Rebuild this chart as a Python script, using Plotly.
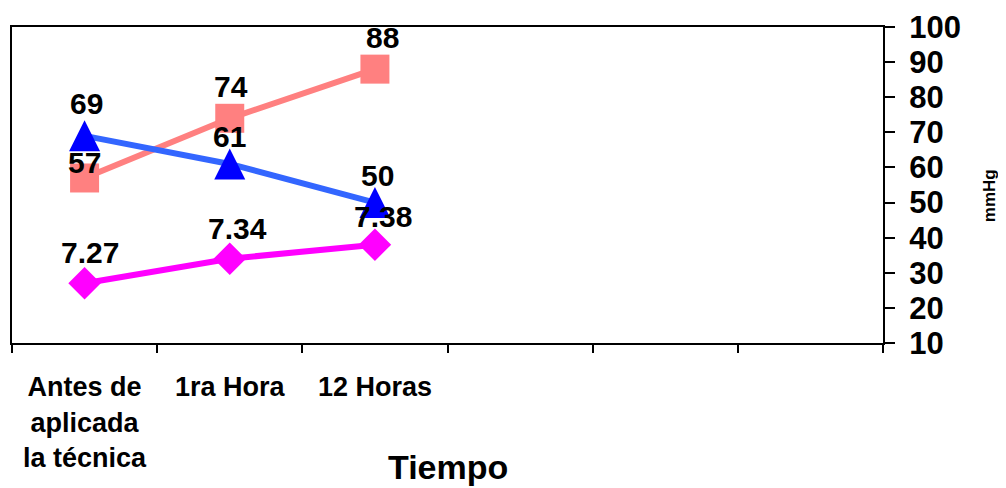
import plotly.graph_objects as go

# ---- data ----
categories = ["Antes de<br>aplicada<br>la técnica", "1ra Hora", "12 Horas", " ", "  ", "   "]
x_idx = [0, 1, 2]
serie_rosa = [57, 74, 88]          # squares
serie_azul = [69, 61, 50]          # triangles
ph_labels = ["7.27", "7.34", "7.38"]
ph_plot = [27, 34, 38]             # diamonds (plotted position)
y_ticks = [10, 20, 30, 40, 50, 60, 70, 80, 90, 100]
x_title = "Tiempo"
y_title = "mmHg"

FONT = "Liberation Sans, Arial, sans-serif"
PAGE_OFFSET = 8  # default body margin of the html page
Y_RANGE = [10, 100]
PLOT_H = 316     # plot area height in px
TRI_SIZE = 31

fig = go.Figure()

styles = [
    dict(y=serie_rosa, text=[str(v) for v in serie_rosa], line="#FF8080", marker="#FF8080",
         symbol="square", size=29, yshift=[15, 32, 32], xshift=[0, 1, 8]),
    dict(y=serie_azul, text=[str(v) for v in serie_azul], line="#3366FF", marker="#0000FF",
         symbol=None, size=0, yshift=[32, 27, 27], xshift=[2, 0, 3]),
    dict(y=ph_plot, text=ph_labels, line="#FF00FF", marker="#FF00FF",
         symbol="diamond", size=25, yshift=[31, 30, 28], xshift=[5, 8, 8]),
]

for s in styles:
    if s["symbol"] is None:
        fig.add_trace(go.Scatter(x=x_idx, y=s["y"], mode="lines",
                                 line=dict(color=s["line"], width=6),
                                 showlegend=False, hoverinfo="skip"))
    else:
        fig.add_trace(go.Scatter(
            x=x_idx, y=s["y"], mode="lines+markers",
            line=dict(color=s["line"], width=6),
            marker=dict(symbol=s["symbol"], size=s["size"], color=s["marker"],
                        line=dict(width=0)),
            showlegend=False, hoverinfo="skip"))

# triangle markers (equal width/height) on an overlay axis shifted so they are centred
shift_units = (TRI_SIZE / 2) * (Y_RANGE[1] - Y_RANGE[0]) / PLOT_H
fig.add_trace(go.Scatter(x=x_idx, y=serie_azul, mode="markers", yaxis="y2",
                         marker=dict(symbol="arrow-up", size=TRI_SIZE, color="#0000FF",
                                     line=dict(width=0)),
                         showlegend=False, hoverinfo="skip"))

for s in styles:
    for xi, yi, t, dy, dx in zip(x_idx, s["y"], s["text"], s["yshift"], s["xshift"]):
        fig.add_annotation(x=xi, y=yi, text=t, showarrow=False,
                           xanchor="center", yanchor="middle",
                           yshift=dy, xshift=dx,
                           font=dict(family=FONT, size=30, color="black", weight="bold"))

fig.add_annotation(x=0.5, y=-0.392, xref="paper", yref="paper", text=x_title,
                   showarrow=False, xanchor="center", yanchor="middle",
                   font=dict(family=FONT, size=34, color="black", weight="bold"))
fig.add_annotation(x=1.1226, y=0.467, xref="paper", yref="paper", text=y_title,
                   showarrow=False, xanchor="center", yanchor="middle", textangle=-90,
                   font=dict(family=FONT, size=17, color="black", weight="bold"))

fig.update_layout(
    width=1006 - PAGE_OFFSET, height=488 - PAGE_OFFSET,
    margin=dict(l=10 - PAGE_OFFSET, r=123, t=27 - PAGE_OFFSET, b=145),
    paper_bgcolor="white", plot_bgcolor="white",
    xaxis=dict(range=[-0.5, 5.5], tickmode="array", tickvals=list(range(len(categories))),
               ticktext=categories, ticks="", showline=True, linecolor="black",
               linewidth=2, mirror=True, showgrid=False, zeroline=False,
               ticklabelstandoff=19,
               tickfont=dict(family=FONT, size=27, color="black", weight="bold"),
               minor=dict(tick0=-0.5, dtick=1, ticks="outside", ticklen=8,
                          tickcolor="black", tickwidth=2, showgrid=False)),
    yaxis=dict(side="right", range=Y_RANGE, tickmode="array", tickvals=y_ticks,
               ticks="outside", ticklen=10, tickwidth=2, tickcolor="black",
               showline=True, linecolor="black", linewidth=2, mirror=True,
               showgrid=False, zeroline=False, ticklabelstandoff=8,
               tickfont=dict(family=FONT, size=31, color="black", weight="bold")),
    yaxis2=dict(overlaying="y", side="right",
                range=[Y_RANGE[0] - shift_units, Y_RANGE[1] - shift_units],
                visible=False, showgrid=False, zeroline=False),
)

fig.write_html("out.html")
